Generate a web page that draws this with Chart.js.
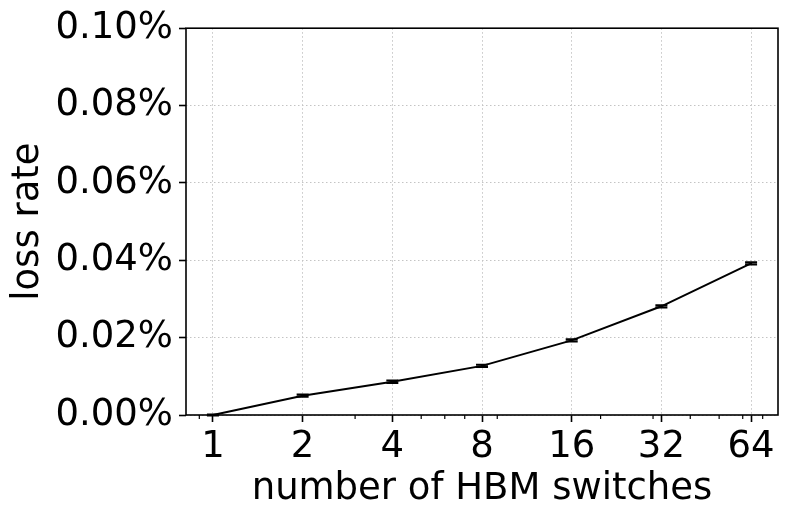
<!DOCTYPE html>
<html>
<head>
<meta charset="utf-8">
<script src="https://cdn.jsdelivr.net/npm/chart.js@4/dist/chart.umd.min.js"></script>
<style>
html,body{margin:0;padding:0;background:#fff;}
#wrap{width:793px;height:522px;position:relative;}
</style>
</head>
<body>
<div id="wrap"><canvas id="c" width="793" height="522"></canvas></div>
<script>
const switches = [1, 2, 4, 8, 16, 32, 64];
const lossRate = [0.0000, 0.0050, 0.0086, 0.0127, 0.0193, 0.0281, 0.0392];
const lossErr = [0.0001, 0.0003, 0.0003, 0.0003, 0.0003, 0.0003, 0.0003];
const yTicks = [0, 0.02, 0.04, 0.06, 0.08, 0.10];
const xMinorTicks = [0.9, 3, 5, 6, 7, 9, 20, 30, 40, 50, 60, 70];

const FONT = 'DejaVu Sans';

const framePlugin = {
  id: 'frame',
  afterDatasetsDraw(chart) {
    const {ctx, chartArea: a, scales} = chart;
    const xs = scales.x, ys = scales.y;
    ctx.save();
    ctx.setLineDash([]);
    ctx.strokeStyle = '#000';
    ctx.lineWidth = 2;
    switches.forEach((s, i) => {
      const px = xs.getPixelForValue(s);
      const y1 = ys.getPixelForValue(lossRate[i] - lossErr[i]);
      const y2 = ys.getPixelForValue(lossRate[i] + lossErr[i]);
      ctx.beginPath();
      ctx.moveTo(px, y1); ctx.lineTo(px, y2);
      ctx.moveTo(px - 6, y1); ctx.lineTo(px + 6, y1);
      ctx.moveTo(px - 6, y2); ctx.lineTo(px + 6, y2);
      ctx.stroke();
    });
    ctx.lineWidth = 1.6;
    ctx.strokeRect(a.left, a.top, a.right - a.left, a.bottom - a.top);
    ctx.lineWidth = 1.2;
    xMinorTicks.forEach(v => {
      const px = xs.getPixelForValue(v);
      ctx.beginPath();
      ctx.moveTo(px, a.bottom); ctx.lineTo(px, a.bottom + 4);
      ctx.stroke();
    });
    ctx.restore();
  }
};

new Chart(document.getElementById('c'), {
  type: 'line',
  data: {
    datasets: [{
      data: switches.map((s, i) => ({x: s, y: lossRate[i]})),
      borderColor: '#000',
      borderWidth: 2,
      pointRadius: 0,
      fill: false,
      tension: 0,
      clip: false
    }]
  },
  options: {
    responsive: false,
    animation: false,
    devicePixelRatio: 1,
    layout: {padding: {left: 0, top: 27, right: 15, bottom: 0}},
    plugins: {legend: {display: false}, tooltip: {enabled: false}},
    scales: {
      x: {
        type: 'logarithmic',
        min: 0.812,
        max: 78.8,
        afterBuildTicks(scale) { scale.ticks = switches.map(v => ({value: v})); },
        afterFit(scale) { scale.height = 107; },
        ticks: {
          autoSkip: false, maxRotation: 0, minRotation: 0,
          color: '#000', padding: 3,
          font: {family: FONT, size: 37},
          callback: (v) => String(v)
        },
        grid: {
          color: '#c4c4c4', lineWidth: 1,
          drawTicks: true, tickLength: 7, tickColor: '#000', tickWidth: 1.6, tickBorderDash: []
        },
        border: {display: false, dash: [1.5, 2.5]},
        title: {
          display: true, text: 'number of HBM switches', color: '#000',
          font: {family: FONT, size: 37}, padding: {top: 0, bottom: 10}
        }
      },
      y: {
        min: 0, max: 0.10,
        afterBuildTicks(scale) { scale.ticks = yTicks.map(v => ({value: v})); },
        afterFit(scale) { scale.width = 186; },
        ticks: {
          color: '#000', padding: 6,
          font: {family: FONT, size: 37},
          callback: (v) => v.toFixed(2) + '%'
        },
        grid: {
          color: '#c4c4c4', lineWidth: 1,
          drawTicks: true, tickLength: 7, tickColor: '#000', tickWidth: 1.6, tickBorderDash: []
        },
        border: {display: false, dash: [1.5, 2.5]},
        title: {
          display: true, text: 'loss rate', color: '#000',
          font: {family: FONT, size: 37}, padding: {top: 6, bottom: 0}
        }
      }
    }
  },
  plugins: [framePlugin]
});
</script>
</body>
</html>
